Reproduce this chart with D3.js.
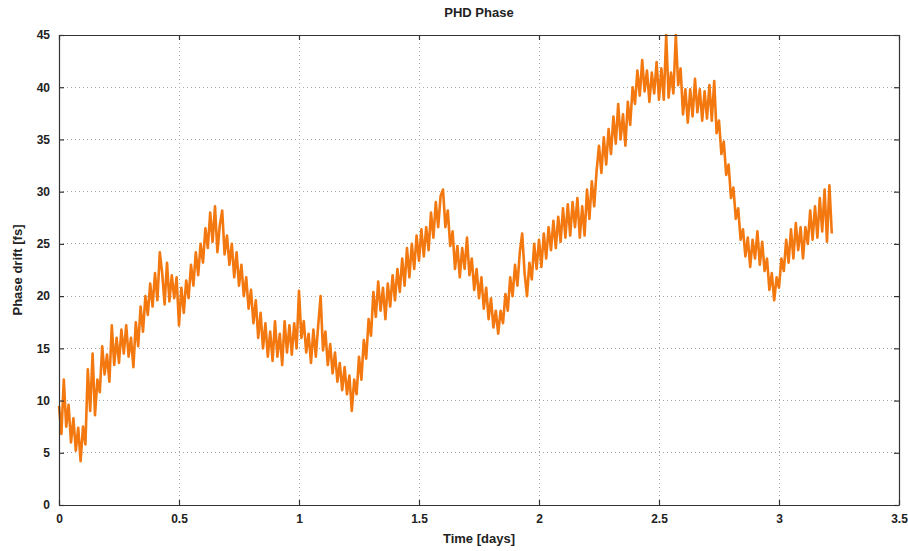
<!DOCTYPE html>
<html>
<head>
<meta charset="utf-8">
<script src="https://cdn.jsdelivr.net/npm/d3@7/dist/d3.min.js"></script>
<style>
  html, body { margin: 0; padding: 0; background: #fff; }
  svg { display: block; }
  text { font-family: "Liberation Sans", Arial, sans-serif; fill: #222; }
</style>
</head>
<body>
<svg id="chart" width="908" height="551"></svg>
<script>
// ---- data ----
const title = "PHD Phase";
const xLabel = "Time [days]";
const yLabel = "Phase drift [fs]";
const xTicks = [0, 0.5, 1, 1.5, 2, 2.5, 3, 3.5];
const xTickLabels = ["0", "0.5", "1", "1.5", "2", "2.5", "3", "3.5"];
const yTicks = [0, 5, 10, 15, 20, 25, 30, 35, 40, 45];
const yTickLabels = ["0", "5", "10", "15", "20", "25", "30", "35", "40", "45"];
const sampleStep = 0.01; // days between samples
const phaseDrift = [
  9.5, 6.8, 12.0, 7.5, 9.6, 6.0, 8.3, 5.2, 7.4, 4.2,
  7.5, 5.8, 13.0, 9.0, 14.5, 8.6, 12.0, 10.8, 15.2, 12.5,
  14.4, 11.8, 17.2, 13.4, 16.0, 13.6, 16.8, 14.5, 17.2, 14.2,
  16.0, 13.2, 17.5, 15.2, 19.0, 16.6, 20.0, 18.2, 21.2, 19.0,
  22.2, 19.6, 24.2, 22.2, 19.2, 23.2, 19.5, 22.0, 19.8, 21.8,
  17.2, 20.8, 18.4, 21.5, 19.8, 23.0, 21.0, 24.2, 22.0, 25.0,
  23.2, 26.5, 24.6, 28.0, 25.2, 28.6, 24.2, 26.8, 28.2, 24.0,
  25.8, 23.0, 25.0, 21.8, 24.2, 21.0, 23.0, 20.0, 21.8, 18.8,
  20.6, 17.4, 19.6, 16.0, 18.4, 15.0, 17.4, 14.2, 16.6, 13.8,
  17.6, 14.2, 16.4, 13.4, 17.6, 14.6, 17.2, 14.4, 17.4, 15.0,
  20.5, 16.0, 17.6, 14.6, 16.4, 13.6, 16.8, 14.2, 17.2, 20.0,
  14.8, 16.6, 13.4, 15.4, 12.6, 14.6, 11.8, 13.6, 11.0, 13.2,
  10.6, 12.4, 9.0, 12.0, 10.6, 14.2, 12.0, 15.8, 14.0, 17.8,
  16.2, 20.4, 18.0, 21.4, 18.6, 20.8, 17.8, 21.2, 19.0, 22.0,
  19.6, 22.6, 20.4, 23.6, 21.0, 24.6, 21.8, 25.0, 22.6, 25.8,
  23.4, 26.4, 23.8, 26.6, 24.4, 28.0, 25.6, 29.0, 26.6, 29.6,
  30.2, 26.6, 28.2, 24.8, 26.2, 22.6, 24.8, 21.8, 24.6, 22.6,
  25.6, 22.0, 23.6, 20.6, 22.6, 19.8, 21.8, 18.8, 20.8, 17.8,
  19.8, 17.0, 18.6, 16.4, 18.6, 17.4, 20.2, 18.6, 21.8, 20.0,
  23.0, 21.0, 24.2, 26.0, 22.2, 20.0, 23.2, 21.6, 25.0, 22.6,
  25.4, 22.8, 26.0, 23.6, 26.6, 24.4, 27.2, 24.6, 27.6, 25.2,
  28.4, 25.6, 28.8, 25.8, 29.0, 26.6, 29.4, 25.6, 28.6, 25.8,
  30.2, 27.4, 31.0, 28.6, 32.0, 34.4, 31.8, 35.2, 32.6, 36.0,
  33.6, 37.2, 34.6, 38.4, 35.0, 37.4, 34.4, 38.6, 36.4, 40.0,
  38.4, 41.6, 39.2, 42.6, 39.6, 41.6, 38.6, 41.4, 39.4, 42.4,
  38.8, 41.8, 38.8, 45.0, 39.0, 41.4, 39.4, 45.0, 40.2, 41.8,
  37.4, 39.8, 36.6, 39.8, 37.2, 40.8, 37.6, 39.8, 36.8, 39.6,
  37.0, 40.2, 36.8, 40.6, 35.6, 36.8, 33.6, 34.8, 31.6, 32.6,
  29.4, 30.4, 27.4, 28.4, 25.4, 26.4, 23.8, 25.6, 22.8, 25.4,
  23.6, 26.2, 23.0, 25.2, 22.4, 23.6, 20.6, 22.2, 19.6, 21.8,
  20.8, 23.6, 22.4, 25.4, 23.2, 26.4, 23.6, 27.0, 24.4, 26.6,
  23.6, 26.6, 25.0, 28.2, 25.4, 28.6, 25.6, 29.4, 26.2, 30.2,
  25.2, 30.6, 26.0
];

// ---- layout ----
const svg = d3.select("#chart");
const margin = { left: 59, right: 9, top: 35, bottom: 46 };
const W = 908, H = 551;
const plotW = W - margin.left - margin.right;
const plotH = H - margin.top - margin.bottom;

const x = d3.scaleLinear().domain([0, 3.5]).range([0, plotW]);
const y = d3.scaleLinear().domain([0, 45]).range([plotH, 0]);

const g = svg.append("g").attr("transform", `translate(${margin.left},${margin.top})`);

// grid
const gridColor = "#a8a8a8";
g.append("g").selectAll("line").data(xTicks.slice(1, -1)).join("line")
  .attr("x1", d => x(d)).attr("x2", d => x(d))
  .attr("y1", 0).attr("y2", plotH)
  .attr("stroke", gridColor).attr("stroke-width", 1)
  .attr("stroke-dasharray", "1,3").attr("shape-rendering", "crispEdges");
g.append("g").selectAll("line").data(yTicks.slice(1, -1)).join("line")
  .attr("x1", 0).attr("x2", plotW)
  .attr("y1", d => y(d)).attr("y2", d => y(d))
  .attr("stroke", gridColor).attr("stroke-width", 1)
  .attr("stroke-dasharray", "1,3").attr("shape-rendering", "crispEdges");

// data line (dense, noisy trace)
const data = phaseDrift.map((v, i) => ({ t: i * sampleStep, v }));
const line = d3.line().x(d => x(d.t)).y(d => y(d.v));
g.append("path").datum(data)
  .attr("d", line)
  .attr("fill", "none")
  .attr("stroke", "#f2780f")
  .attr("stroke-width", 2.6)
  .attr("stroke-linejoin", "round");

// axes (MATLAB style: inward ticks on all four sides)
const tickLen = 5;
const axisColor = "#333";
const xAxisB = d3.axisBottom(x).tickValues(xTicks).tickFormat((d, i) => xTickLabels[i]).tickSizeInner(-tickLen).tickSizeOuter(0).tickPadding(9);
const xAxisT = d3.axisTop(x).tickValues(xTicks).tickFormat("").tickSizeInner(-tickLen).tickSizeOuter(0);
const yAxisL = d3.axisLeft(y).tickValues(yTicks).tickFormat((d, i) => yTickLabels[i]).tickSizeInner(-tickLen).tickSizeOuter(0).tickPadding(9);
const yAxisR = d3.axisRight(y).tickValues(yTicks).tickFormat("").tickSizeInner(-tickLen).tickSizeOuter(0);

function styleAxis(sel) {
  sel.select(".domain").attr("stroke", axisColor).attr("stroke-width", 1.2);
  sel.selectAll(".tick line").attr("stroke", axisColor).attr("stroke-width", 1.2);
  sel.selectAll(".tick text").attr("fill", "#222").style("font-size", "12px").style("font-weight", "bold")
    .style("font-family", "'Liberation Sans', Arial, sans-serif");
}
g.append("g").attr("transform", `translate(0,${plotH})`).call(xAxisB).call(styleAxis);
g.append("g").call(xAxisT).call(styleAxis);
g.append("g").call(yAxisL).call(styleAxis);
g.append("g").attr("transform", `translate(${plotW},0)`).call(yAxisR).call(styleAxis);

// texts
svg.append("text").attr("x", margin.left + plotW / 2).attr("y", 17)
  .attr("text-anchor", "middle").style("font-size", "13px").style("font-weight", "bold").text(title);
svg.append("text").attr("x", margin.left + plotW / 2).attr("y", 543)
  .attr("text-anchor", "middle").style("font-size", "13px").style("font-weight", "bold").text(xLabel);
svg.append("text").attr("transform", `translate(22,${margin.top + plotH / 2}) rotate(-90)`)
  .attr("text-anchor", "middle").style("font-size", "13px").style("font-weight", "bold").text(yLabel);
</script>
</body>
</html>
